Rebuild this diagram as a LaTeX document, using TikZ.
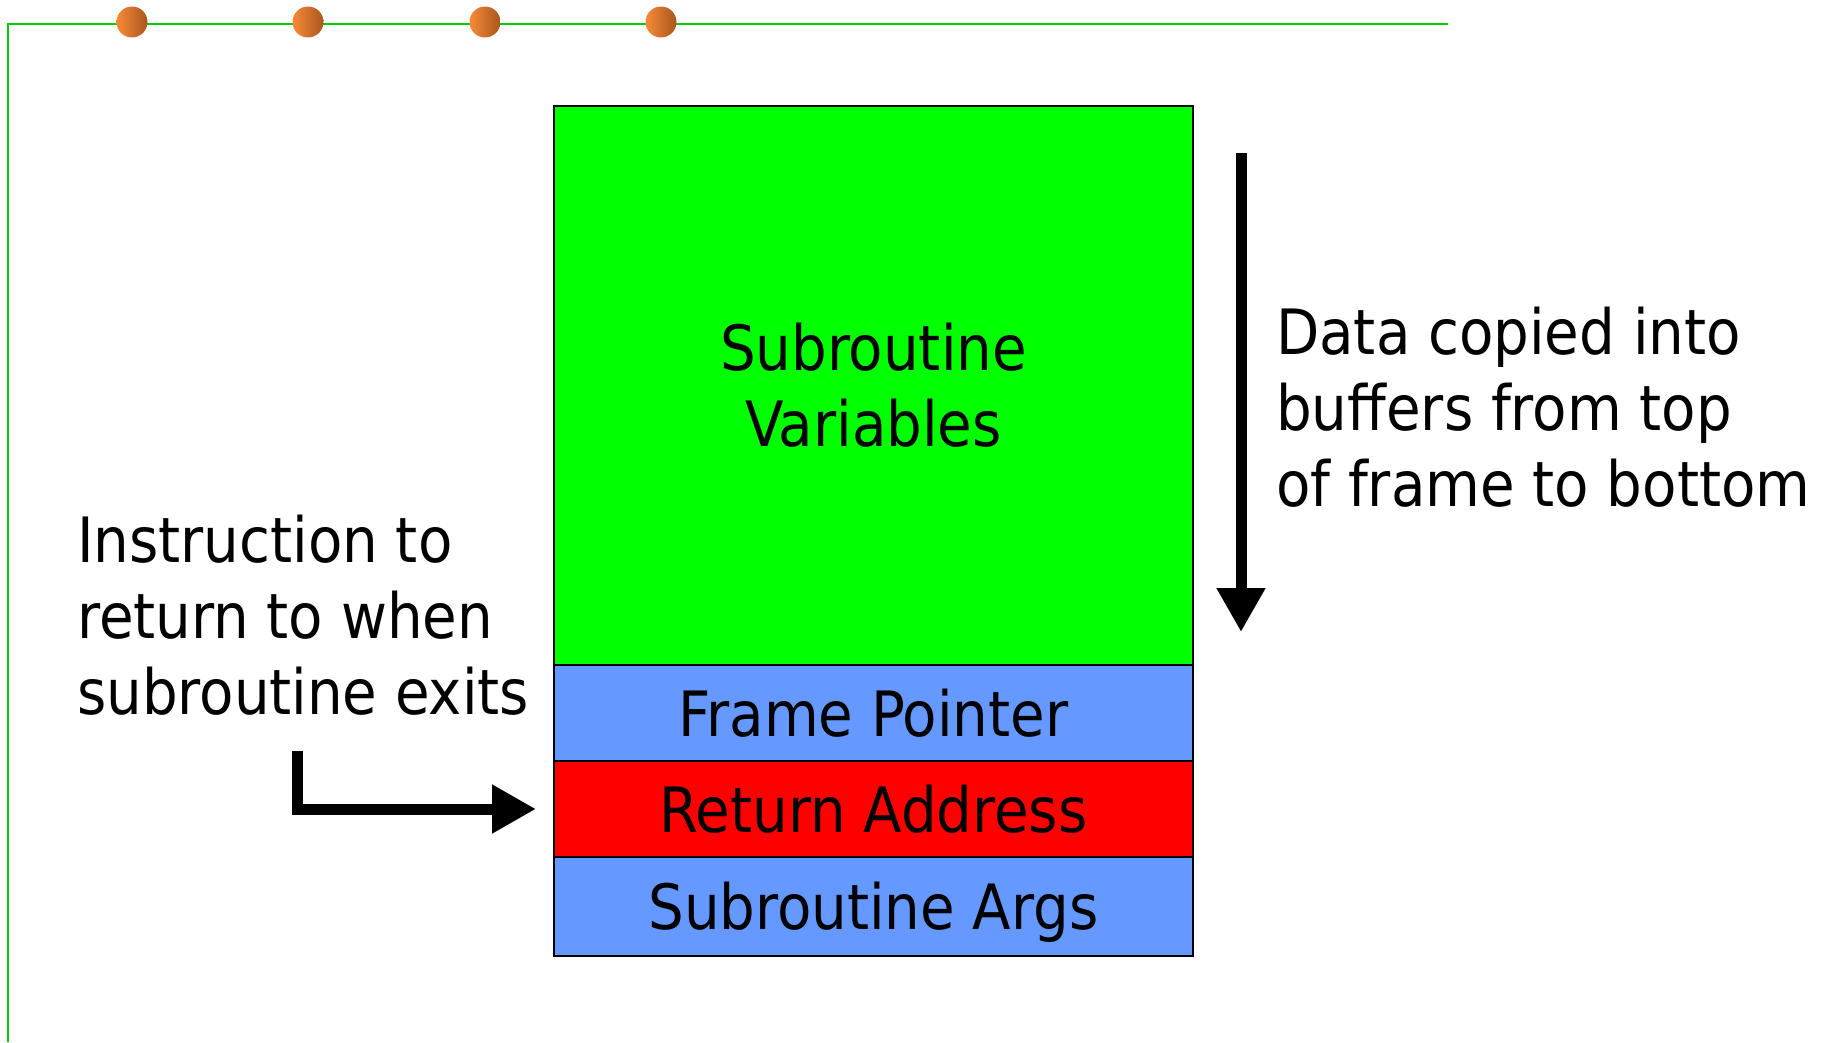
\documentclass[tikz,border=0pt]{standalone}
\usepackage{fontspec}
\setmainfont{DejaVu Sans Condensed}
\usetikzlibrary{arrows.meta}

\definecolor{railgreen}{HTML}{00CC00}
\definecolor{vargreen}{HTML}{00FF00}
\definecolor{slotblue}{HTML}{6699FF}
\definecolor{slotred}{HTML}{FF0000}
\definecolor{dotlight}{HTML}{F88A38}
\definecolor{dotdark}{HTML}{A8561E}

\tikzset{
  bigtext/.style={font=\fontsize{62.5}{76}\selectfont, inner sep=0pt},
  stackbox/.style={draw=black, line width=2pt, minimum width=639pt,
    inner sep=0pt, anchor=north west, bigtext, text height=46pt, text depth=0pt},
  bullet/.style={circle, minimum size=31pt, inner sep=0pt,
    left color=dotlight, right color=dotdark, shading angle=90},
  fatarrow/.style={line width=11pt, line join=miter,
    -{Triangle[length=44pt,width=46pt]}}
}

\begin{document}
\begin{tikzpicture}[x=1pt,y=-1pt]
  \useasboundingbox (0,0) rectangle (1831,1042);

  % slide rail along the top and left edges
  \draw[railgreen, line width=2pt] (1448,24) -- (8,24) -- (8,1042);
  \foreach \i/\x in {1/132,2/308,3/485,4/661}
    \node[bullet, left color=dotlight, right color=dotdark] (dot\i) at (\x,22) {};

  % the stack frame, top to bottom
  \node[stackbox, fill=vargreen, minimum height=559pt] (vars) at (553,105) {};
  \node[bigtext, align=center] (varstext) at (vars.center) {Subroutine\\Variables};
  \node[stackbox, fill=slotblue, minimum height=96pt] (fp) at (553,664) {Frame Pointer};
  \node[stackbox, fill=slotred, minimum height=96pt] (ra) at (553,760) {Return Address};
  \node[stackbox, fill=slotblue, minimum height=99pt] (args) at (553,856) {Subroutine Args};

  % copy direction
  \coordinate (copytop) at (1241,153);
  \coordinate (copybot) at (1241,632);
  \draw[fatarrow] (copytop) -- (copybot);
  \node[bigtext, align=left, anchor=north west] (copytext) at (1276,307)
    {Data copied into\\buffers from top\\of frame to bottom};

  % return address pointer
  \node[bigtext, align=left, anchor=north west] (instr) at (77,515)
    {Instruction to\\return to when\\subroutine exits};
  \coordinate (bend) at (297.5,751);
  \draw[fatarrow, shorten >=17pt] (bend) |- (ra.west);
\end{tikzpicture}
\end{document}
